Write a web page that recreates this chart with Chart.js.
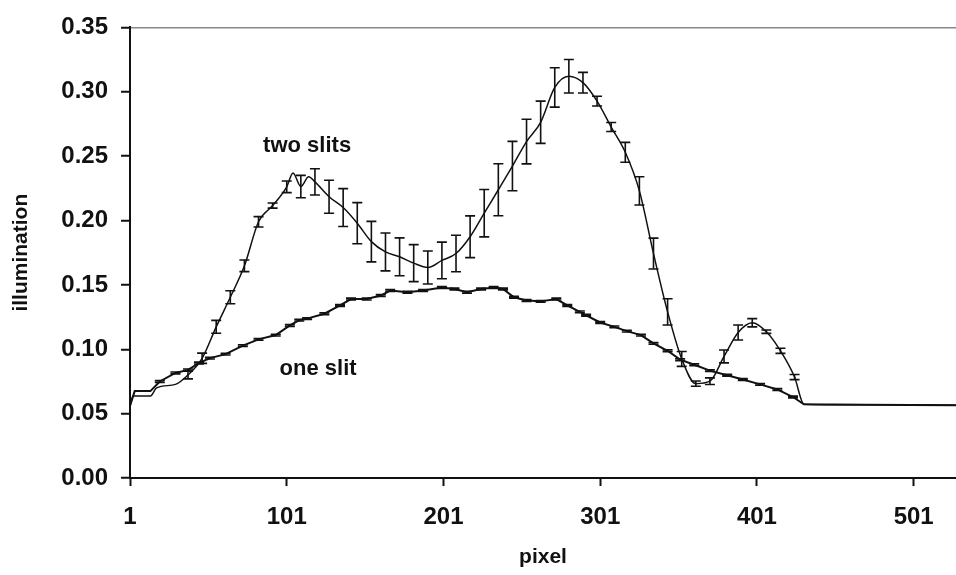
<!DOCTYPE html>
<html>
<head>
<meta charset="utf-8">
<script src="https://cdn.jsdelivr.net/npm/chart.js@4"></script>
<style>
  html, body { margin: 0; padding: 0; background: #fff; }
</style>
</head>
<body>
<canvas id="slitChart" width="956" height="575"></canvas>
<script>
// tick labels
const xTicks = [1, 101, 201, 301, 401, 501];
const yTicks = [0, 0.05, 0.10, 0.15, 0.20, 0.25, 0.30, 0.35];

// two slits: pixel, illumination, error (null = no bar)
const twoSlitX = [1, 3, 14, 18, 30, 38, 47, 56, 65, 74, 83, 92, 101, 105, 110, 115, 119, 128, 137, 146, 155, 164, 173, 182, 191, 200, 209, 218, 227, 236, 245, 254, 263, 272, 281, 290, 299, 308, 317, 326, 335, 344, 353, 362, 371, 380, 389, 398, 407, 416, 425, 431, 480, 528];
const twoSlitY = [0.056, 0.0637, 0.0637, 0.070, 0.0727, 0.080, 0.093, 0.1174, 0.1404, 0.1648, 0.199, 0.2116, 0.2262, 0.237, 0.2264, 0.234, 0.230, 0.2185, 0.2101, 0.1979, 0.1836, 0.1756, 0.1718, 0.1669, 0.1635, 0.169, 0.1744, 0.1874, 0.2057, 0.2239, 0.2423, 0.2613, 0.2763, 0.3034, 0.3121, 0.3071, 0.2927, 0.2726, 0.253, 0.223, 0.1743, 0.129, 0.0925, 0.0733, 0.0752, 0.0944, 0.113, 0.1206, 0.1136, 0.0988, 0.0784, 0.0573, 0.0568, 0.0565];
const twoSlitErr = [null, null, null, null, null, 0.003, 0.004, 0.005, 0.005, 0.0045, 0.004, 0.002, 0.0045, null, 0.0087, null, 0.0102, 0.0128, 0.0147, 0.016, 0.0157, 0.0147, 0.0147, 0.0144, 0.0128, 0.0142, 0.0142, 0.0162, 0.0184, 0.0202, 0.0192, 0.0173, 0.0164, 0.0153, 0.013, 0.008, 0.0038, 0.0035, 0.0077, 0.011, 0.012, 0.0102, 0.0058, 0.002, 0.0026, 0.005, 0.0058, 0.0032, 0.0013, 0.002, 0.002, null, null, null];

// one slit
const oneSlitX = [1, 4, 14, 20, 30, 38, 45, 52, 62, 73, 83, 94, 103, 109, 114, 125, 135, 142, 152, 161, 167, 178, 188, 200, 208, 216, 225, 233, 239, 246, 254, 263, 273, 280, 288, 292, 301, 310, 318, 327, 335, 344, 352, 361, 371, 382, 392, 403, 414, 424, 431, 470, 528];
const oneSlitY = [0.056, 0.0675, 0.0675, 0.075, 0.0816, 0.084, 0.0893, 0.0931, 0.0962, 0.1028, 0.1077, 0.111, 0.1185, 0.1226, 0.1238, 0.1276, 0.134, 0.139, 0.139, 0.1417, 0.1456, 0.1443, 0.1456, 0.148, 0.1468, 0.1443, 0.1468, 0.148, 0.1468, 0.1404, 0.1379, 0.1372, 0.139, 0.134, 0.129, 0.1264, 0.1208, 0.1174, 0.1141, 0.111, 0.1046, 0.0988, 0.0919, 0.088, 0.0834, 0.0798, 0.0765, 0.0727, 0.0688, 0.0629, 0.0573, 0.0568, 0.0565];
const oneSlitErr = oneSlitX.map(x => (x >= 20 && x <= 424) ? 0.0007 : null);

const labelFont = { family: 'Liberation Sans', size: 24, weight: 'bold' };
const titleFont = { family: 'Liberation Sans', size: 21, weight: 'bold' };

// error bars drawn through the scales
const errorBars = {
  id: 'errorBars',
  afterDatasetsDraw(chart) {
    const ctx = chart.ctx;
    const xs = chart.scales.x, ys = chart.scales.y;
    chart.data.datasets.forEach(ds => {
      if (!ds.errors) return;
      ctx.save();
      ctx.strokeStyle = '#111';
      ctx.lineWidth = 1.6;
      ds.data.forEach((p, i) => {
        const e = ds.errors[i];
        if (e == null) return;
        const px = xs.getPixelForValue(p.x);
        const top = ys.getPixelForValue(p.y + e);
        const bot = ys.getPixelForValue(p.y - e);
        ctx.beginPath();
        ctx.moveTo(px, top); ctx.lineTo(px, bot);
        ctx.moveTo(px - 5, top); ctx.lineTo(px + 5, top);
        ctx.moveTo(px - 5, bot); ctx.lineTo(px + 5, bot);
        ctx.stroke();
      });
      ctx.restore();
    });
  }
};

// curve names written on the plot
const curveNotes = [
  { text: 'two slits', x: 114, y: 0.258 },
  { text: 'one slit', x: 121, y: 0.0845 }
];
const notesPlugin = {
  id: 'notes',
  afterDraw(chart) {
    const ctx = chart.ctx;
    ctx.save();
    ctx.font = 'bold 22px "Liberation Sans"';
    ctx.fillStyle = '#111';
    ctx.textAlign = 'center';
    ctx.textBaseline = 'middle';
    curveNotes.forEach(n => {
      ctx.fillText(n.text, chart.scales.x.getPixelForValue(n.x), chart.scales.y.getPixelForValue(n.y));
    });
    ctx.restore();
  }
};

const ctx = document.getElementById('slitChart').getContext('2d');
const slitChart = new Chart(ctx, {
  type: 'line',
  data: {
    datasets: [{
      label: 'two slits',
      data: twoSlitX.map((x, i) => ({ x: x, y: twoSlitY[i] })),
      errors: twoSlitErr,
      borderColor: '#111',
      borderWidth: 1.5,
      cubicInterpolationMode: 'monotone',
      pointRadius: 0
    }, {
      label: 'one slit',
      data: oneSlitX.map((x, i) => ({ x: x, y: oneSlitY[i] })),
      errors: oneSlitErr,
      borderColor: '#111',
      borderWidth: 2,
      tension: 0,
      pointRadius: 0
    }]
  },
  options: {
    responsive: false,
    animation: false,
    layout: { padding: { top: 22, right: 0, bottom: 0, left: 0 } },
    plugins: {
      legend: { display: false },
      tooltip: { enabled: false }
    },
    scales: {
      x: {
        type: 'linear',
        min: 1,
        max: 528,
        afterBuildTicks: s => { s.ticks = xTicks.map(v => ({ value: v })); },
        afterFit: s => { s.height = 97; },
        border: { color: '#111', width: 2 },
        grid: { drawOnChartArea: false, tickLength: 8, tickColor: '#111', tickWidth: 2 },
        ticks: { font: labelFont, color: '#111', padding: 17, maxRotation: 0, autoSkip: false },
        title: { display: true, text: 'pixel', font: titleFont, color: '#111', padding: { top: 0, bottom: 5 } }
      },
      y: {
        min: 0,
        max: 0.35,
        afterBuildTicks: s => { s.ticks = yTicks.map(v => ({ value: v })); },
        afterFit: s => { s.width = 130; },
        border: { color: '#111', width: 2 },
        grid: {
          color: c => (c.tick && c.tick.value === 0.35) ? '#888' : 'rgba(0,0,0,0)',
          lineWidth: 1.5,
          tickLength: 9,
          tickColor: '#111',
          tickWidth: 2
        },
        ticks: { font: labelFont, color: '#111', padding: 13, callback: v => v.toFixed(2) },
        title: { display: true, text: 'illumination', font: titleFont, color: '#111', padding: { top: 9, bottom: 0 } }
      }
    }
  },
  plugins: [errorBars, notesPlugin]
});
</script>
</body>
</html>
